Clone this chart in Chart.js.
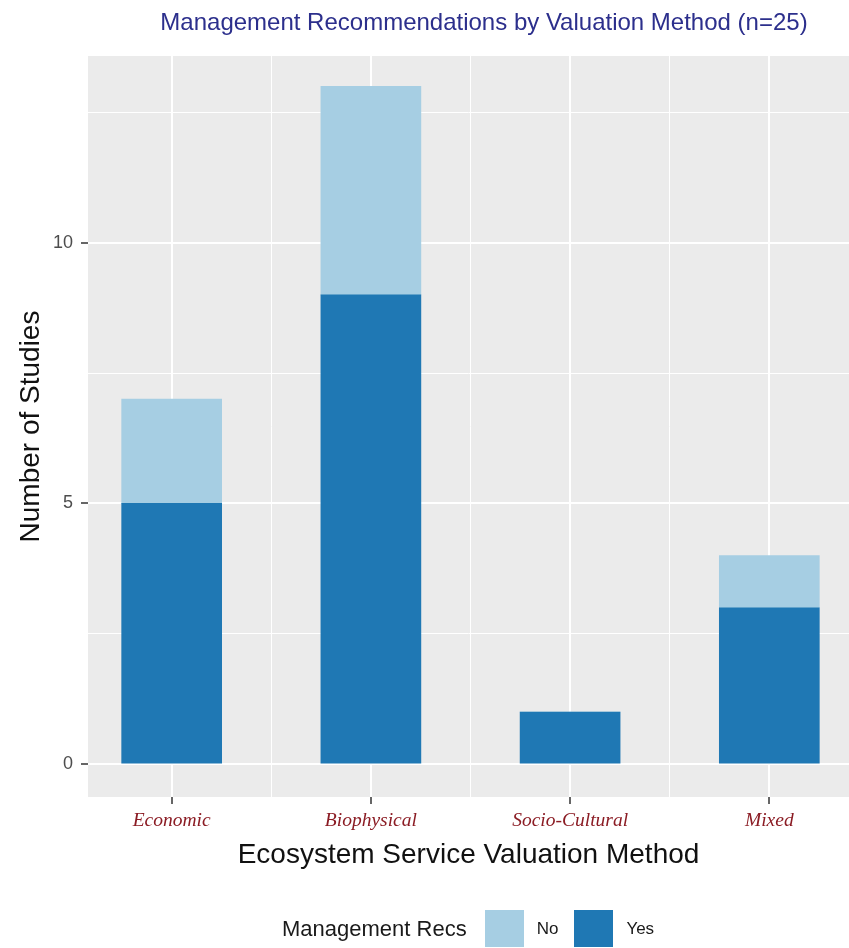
<!DOCTYPE html>
<html>
<head>
<meta charset="utf-8">
<script src="https://cdn.jsdelivr.net/npm/chart.js@4.4.0/dist/chart.umd.min.js"></script>
<style>
  html, body { margin: 0; padding: 0; background: #fff; }
  #wrap { position: relative; width: 849px; height: 948px; overflow: hidden; font-family: "Liberation Sans", Arial, sans-serif; }
  #chart-title { position: absolute; top: 8px; left: 84px; width: 800px; text-align: center; font-size: 24px; color: #2c2f8c; white-space: nowrap; }
  #legend { position: absolute; top: 910px; left: 282px; display: flex; align-items: center; height: 37px; }
  #legend .lt { font-size: 22px; color: #1a1a1a; margin-right: 18px; }
  #legend .sw { width: 39px; height: 37px; }
  #legend .lab { font-size: 17px; color: #1a1a1a; margin: 0 16px 0 13px; }
</style>
</head>
<body>
<div id="wrap">
  <div id="chart-title">Management Recommendations by Valuation Method (n=25)</div>
  <canvas id="chart" width="849" height="948"></canvas>
  <div id="legend"></div>
</div>
<script>
// --- DATA ---
const categories = ['Economic', 'Biophysical', 'Socio-Cultural', 'Mixed'];
const yesCounts = [5, 9, 1, 3];
const noCounts = [2, 4, 0, 1];
const yMajorTicks = [0, 5, 10];
const yMinorTicks = [2.5, 7.5, 12.5];
const xMinorTicks = [1.5, 2.5, 3.5];

const seriesLabels = ['No', 'Yes'];
const colorNo = '#a6cee3';
const colorYes = '#1f78b4';

const panelBg = {
    id: 'panelBg',
    beforeDraw(chart) {
        const { ctx, chartArea: a } = chart;
        ctx.save();
        ctx.fillStyle = '#ebebeb';
        ctx.fillRect(a.left, a.top, a.right - a.left, a.bottom - a.top);
        ctx.restore();
    }
};

const toPoints = arr => arr.map((v, i) => ({ x: i + 1, y: v }));
// grid contexts without a tick (border etc.) count as minor
const isMinor = (list, c) => !c.tick || list.some(m => Math.abs(m - c.tick.value) < 1e-6);

new Chart(document.getElementById('chart'), {
    type: 'bar',
    data: {
        datasets: [
            { label: 'Yes', data: toPoints(yesCounts), backgroundColor: colorYes, barThickness: 100 },
            { label: 'No', data: toPoints(noCounts), backgroundColor: colorNo, barThickness: 100 }
        ]
    },
    options: {
        responsive: false,
        animation: false,
        layout: { padding: { top: 56, right: 0, bottom: 66, left: 0 } },
        plugins: { legend: { display: false }, tooltip: { enabled: false } },
        scales: {
            x: {
                type: 'linear',
                stacked: true,
                offset: false,
                min: 0.58,
                max: 4.4,
                afterBuildTicks: s => { s.ticks = [1, 1.5, 2, 2.5, 3, 3.5, 4].map(v => ({ value: v })); },
                afterFit: s => { s.height = 85; },
                border: { display: false },
                grid: {
                    offset: false,
                    color: '#ffffff',
                    lineWidth: c => isMinor(xMinorTicks, c) ? 1 : 2,
                    tickColor: c => isMinor(xMinorTicks, c) ? 'rgba(0,0,0,0)' : '#333333',
                    tickWidth: 1.5,
                    tickLength: 7
                },
                ticks: {
                    autoSkip: false,
                    maxRotation: 0,
                    padding: 5,
                    color: '#8b1c24',
                    font: { family: '"Liberation Serif", "Times New Roman", serif', style: 'italic', size: 19.5 },
                    callback: v => Number.isInteger(v) ? categories[v - 1] : ''
                },
                title: {
                    display: true,
                    text: 'Ecosystem Service Valuation Method',
                    color: '#111111',
                    font: { family: '"Liberation Sans", Arial, sans-serif', size: 28 },
                    padding: { top: 0, bottom: 10 }
                }
            },
            y: {
                type: 'linear',
                stacked: true,
                min: -0.63,
                max: 13.58,
                afterBuildTicks: s => { s.ticks = yMajorTicks.concat(yMinorTicks).sort((a, b) => a - b).map(v => ({ value: v })); },
                afterFit: s => { s.width = 88; },
                border: { display: false },
                grid: {
                    color: '#ffffff',
                    lineWidth: c => isMinor(yMinorTicks, c) ? 1 : 2,
                    tickColor: c => isMinor(yMinorTicks, c) ? 'rgba(0,0,0,0)' : '#333333',
                    tickWidth: 1.5,
                    tickLength: 7
                },
                ticks: {
                    autoSkip: false,
                    padding: 8,
                    color: '#4d4d4d',
                    font: { family: '"Liberation Sans", Arial, sans-serif', size: 18 },
                    callback: v => yMajorTicks.includes(v) ? String(v) : ''
                },
                title: {
                    display: true,
                    text: 'Number of Studies',
                    color: '#111111',
                    font: { family: '"Liberation Sans", Arial, sans-serif', size: 28 },
                    padding: { top: 14, bottom: 0 }
                }
            }
        }
    },
    plugins: [panelBg]
});

// legend: title on the left, then No / Yes keys
const legend = document.getElementById('legend');
legend.innerHTML = '<span class="lt">Management Recs</span>' +
    seriesLabels.map((l, i) => '<span class="sw" style="background:' + (i === 0 ? colorNo : colorYes) + '"></span><span class="lab">' + l + '</span>').join('');
</script>
</body>
</html>
